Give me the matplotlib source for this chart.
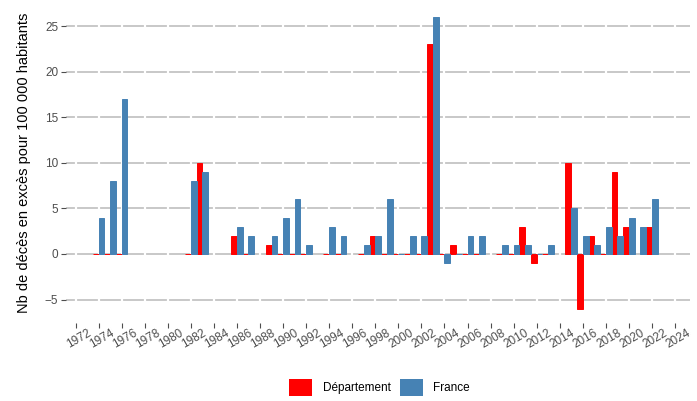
import numpy as np
import matplotlib
matplotlib.use("Agg")
import matplotlib.pyplot as plt
from matplotlib.patches import Patch
from matplotlib.transforms import ScaledTranslation

plt.rcParams['font.family'] = ['Liberation Sans', 'DejaVu Sans']

years = [1974, 1975, 1976, 1982, 1983, 1986, 1987, 1989, 1990, 1991, 1992,
         1994, 1995, 1997, 1998, 1999, 2000, 2001, 2002, 2003, 2004, 2005,
         2006, 2007, 2009, 2010, 2011, 2012, 2013, 2015, 2016, 2017, 2018,
         2019, 2020, 2021, 2022]
departement = [0, 0, 0, 0, 10, 2, 0, 1, 0, 0, 0,
               0, 0, 0, 2, 0, 0, 0, 0, 23, 0, 1,
               0, 0, 0, 0, 3, -1, 0, 10, -6, 2, 0,
               9, 3, np.nan, 3]
france = [4, 8, 17, 8, 9, 3, 2, 2, 4, 6, 1,
          3, 2, 1, 2, 6, 0, 2, 2, 26, -1, 0,
          2, 2, 1, 1, 1, 0, 1, 5, 2, 1, 3,
          2, 4, 3, 6]
xticks = list(range(1972, 2025, 2))
yticks = [-5, 0, 5, 10, 15, 20, 25]
series_names = ["Département", "France"]
colors = ["#FF0000", "#4682B4"]

W, H = 697, 401
fig = plt.figure(figsize=(W / 100, H / 100), dpi=100)
left, right, top, bottom = 66, 690, 2.3, 323.3
ax = fig.add_axes([left / W, 1 - bottom / H, (right - left) / W, (bottom - top) / H])

ax.set_xlim(1971.17, 2025.3)
ax.set_ylim(-7.6, 27.6)

# horizontal grid (gray) and vertical grid (white) beneath bars
for y in yticks:
    ax.axhline(y, color="#C8C8C8", lw=1.4, zorder=0.5)
for x in xticks:
    ax.axvline(x, color="white", lw=1.6, zorder=0.6)

yrs = np.array(years, dtype=float)
d = np.array(departement, dtype=float)
f = np.array(france, dtype=float)
md = ~np.isnan(d)
ax.bar(yrs[md] - 0.25, d[md], width=0.5, color=colors[0], edgecolor=colors[0],
       linewidth=0.7, zorder=2)
ax.bar(yrs + 0.25, f, width=0.5, color=colors[1], edgecolor=colors[1],
       linewidth=0.7, zorder=2)

for s in ax.spines.values():
    s.set_visible(False)

ax.set_yticks(yticks)
ax.set_yticklabels(["\u22125" if v < 0 else str(v) for v in yticks])
ax.set_xticks(xticks)
ax.set_xticklabels([str(x) for x in xticks], rotation=30, ha="center", va="top")
ax.tick_params(axis="both", colors="#4D4D4D", labelsize=8.5, length=3.5, width=0.8)
ax.tick_params(axis="x", pad=0.5)
ax.tick_params(axis="y", pad=2)
shift = ScaledTranslation(3 / 100, 2 / 100, fig.dpi_scale_trans)
for lab in ax.get_xticklabels():
    lab.set_transform(lab.get_transform() + shift)

ax.set_ylabel("Nb de décès en excès pour 100 000 habitants", fontsize=10.5,
              color="black", labelpad=10)

handles = [Patch(facecolor=c, edgecolor="none", label=n) for c, n in zip(colors, series_names)]
fig.legend(handles=handles, loc="center", bbox_to_anchor=(379.5 / W, 1 - 387.5 / H),
           ncol=2, frameon=False, fontsize=8.5, handlelength=1.95, handleheight=1.95,
           handletextpad=0.85, columnspacing=0.8, labelcolor="black")

fig.savefig("out.png", dpi=100)
